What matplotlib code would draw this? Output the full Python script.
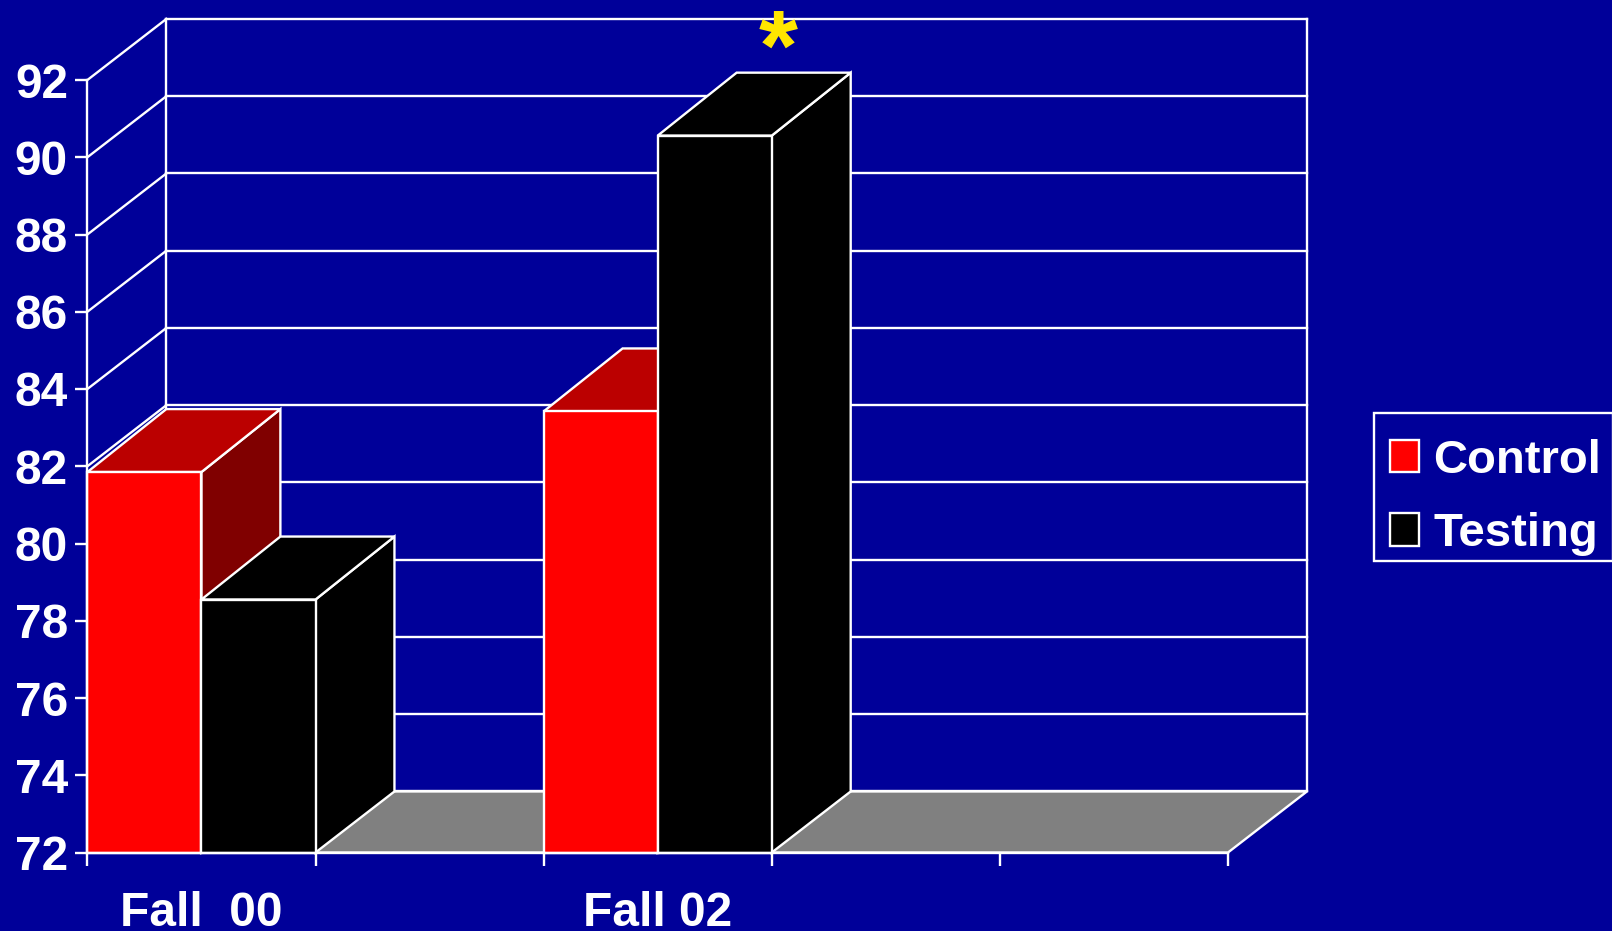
import matplotlib
matplotlib.use("Agg")
from matplotlib import pyplot as plt
from matplotlib.patches import Patch, Rectangle

##### Dati #####
gruppi = ["Fall  00", "", "Fall 02", "", ""]
control = [81.85, None, 83.42, None, None]
testing = [78.55, None, 90.56, None, None]
tacche_y = [72, 74, 76, 78, 80, 82, 84, 86, 88, 90, 92]

##### Stile #####
W, H = 1612, 931
BLU = "#000099"
BIANCO = "white"
LW = 1.7
DX = 0.346   # profondita' in categorie
DY = 1.58    # profondita' in valori
DY_TOP = 1.63  # le barre in cima sono un filo piu' profonde
BASE = 72

plt.rcParams["font.family"] = ["Liberation Sans", "DejaVu Sans"]
plt.rcParams["font.weight"] = "bold"

fig = plt.figure(figsize=(W / 100, H / 100), dpi=100, facecolor=BLU)
ax = fig.add_axes([87.4 / W, 1 - 852.5 / H, (1228 - 87.4) / W, (852.5 - 80) / H])
ax.set_facecolor("none")
ax.set_xlim(0, len(gruppi))
ax.set_ylim(tacche_y[0], tacche_y[-1])


def faccia(xs, ys, colore, z):
    ax.fill(xs, ys, facecolor=colore, edgecolor=BIANCO, linewidth=LW,
            joinstyle="miter", clip_on=False, zorder=z)


def linea(xs, ys, z=1):
    ax.plot(xs, ys, color=BIANCO, linewidth=LW, clip_on=False, zorder=z,
            solid_capstyle="projecting")


def barra(x0, x1, valore, frontale, sopra, lato, z):
    faccia([x1, x1 + DX, x1 + DX, x1], [BASE, BASE + DY, valore + DY_TOP, valore], lato, z)
    faccia([x0, x0 + DX, x1 + DX, x1], [valore, valore + DY_TOP, valore + DY_TOP, valore], sopra, z)
    faccia([x0, x1, x1, x0], [BASE, BASE, valore, valore], frontale, z)


# pareti: griglia sul fondo e sul lato sinistro
n = len(gruppi)
for v in tacche_y:
    linea([DX, n + DX], [v + DY, v + DY])
    linea([0, DX], [v, v + DY])
linea([DX, DX], [BASE + DY, tacche_y[-1] + DY])
linea([n + DX, n + DX], [BASE + DY, tacche_y[-1] + DY])

# pavimento
faccia([0, DX, n + DX, n], [BASE, BASE + DY, BASE + DY, BASE], "#808080", 2)

# barre
for i in range(n):
    if control[i] is None:
        continue
    barra(i, i + 0.5, control[i], "#FF0000", "#BB0000", "#800000", 3)
    barra(i + 0.5, i + 1, testing[i], "black", "black", "black", 4)

# assi
for lato in ["top", "right"]:
    ax.spines[lato].set_visible(False)
for lato in ["left", "bottom"]:
    ax.spines[lato].set_color(BIANCO)
    ax.spines[lato].set_linewidth(LW)
    ax.spines[lato].set_zorder(5)

ax.set_yticks(tacche_y)
ax.set_xticks(range(n + 1))
ax.set_xticklabels([])
ax.set_xticks([i + 0.5 for i in range(n)], minor=True)
ax.set_xticklabels(gruppi, minor=True)
ax.tick_params(axis="y", colors=BIANCO, length=9, width=LW, labelsize=34.5, pad=5)
ax.tick_params(axis="x", which="major", colors=BIANCO, length=9.6, width=LW)
ax.tick_params(axis="x", which="minor", colors=BIANCO, length=0, labelsize=34.5, pad=27.5)

# asterisco
ax.text(3.03, 92.69, "*", color="#FFE600", fontsize=72, ha="center", va="center",
        clip_on=False, zorder=6)

# legenda: la cornice e' a parte, le voci stanno piu' in basso rispetto al centro
fig.add_artist(Rectangle((1374 / W, 1 - 561 / H), 1 - 1373 / W, 148 / H,
                         transform=fig.transFigure, facecolor="none",
                         edgecolor=BIANCO, linewidth=LW))
maniglie = [Patch(facecolor="#FF0000", edgecolor=BIANCO, linewidth=LW, label="Control"),
            Patch(facecolor="black", edgecolor=BIANCO, linewidth=LW, label="Testing")]
leg = fig.legend(handles=maniglie, loc="lower left", mode="expand", frameon=False,
                 bbox_to_anchor=(1375 / W, 1 - 571 / H, 1 - 1375 / W, 148 / H),
                 borderaxespad=0, fontsize=34, labelcolor=BIANCO,
                 handlelength=0.62, handleheight=0.68, handletextpad=0.29,
                 borderpad=0.32, labelspacing=0.62)

fig.savefig("out.png", dpi=100, facecolor=BLU)
